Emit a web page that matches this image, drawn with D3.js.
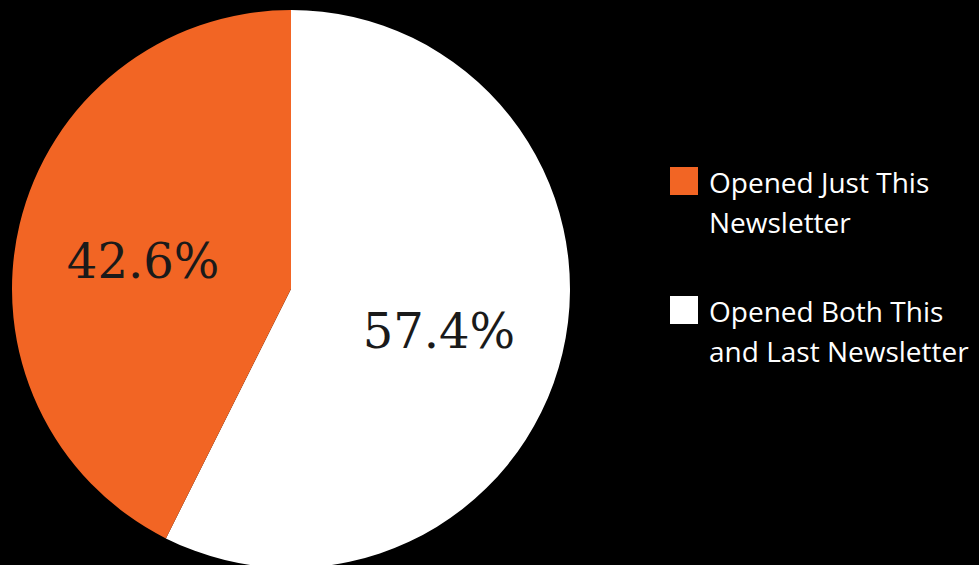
<!DOCTYPE html>
<html>
<head>
<meta charset="utf-8">
<script src="https://cdn.jsdelivr.net/npm/d3@7"></script>
<style>
  html, body { margin: 0; padding: 0; background: #000; }
  svg { display: block; }
</style>
</head>
<body>
<div id="chart"></div>
<script>
// Chart data
const categories = ["Opened Both This and Last Newsletter", "Opened Just This Newsletter"];
const values = [57.4, 42.6];
const legendLines = [["Opened Just This", "Newsletter"], ["Opened Both This", "and Last Newsletter"]];
const legendOrder = [1, 0]; // legend lists orange first
const colors = ["#ffffff", "#f26524"];

const width = 979;
const height = 565;
const cx = 291, cy = 289, radius = 279;

const svg = d3.select("#chart")
    .append("svg")
    .attr("width", width)
    .attr("height", height)
    .style("background-color", "#000");

const pie = d3.pie().sort(null).value(d => d);
const arcs = pie(values);
const arc = d3.arc().innerRadius(0).outerRadius(radius);
const labelArc = d3.arc().innerRadius(152).outerRadius(152);

const g = svg.append("g").attr("transform", `translate(${cx},${cy})`);

g.selectAll("path")
    .data(arcs)
    .enter()
    .append("path")
    .attr("d", arc)
    .attr("fill", (d, i) => colors[i]);

g.selectAll("text")
    .data(arcs)
    .enter()
    .append("text")
    .attr("transform", d => {
        const [x, y] = labelArc.centroid(d);
        return `translate(${x},${y + 7})`;
    })
    .attr("text-anchor", "middle")
    .attr("dy", "0.35em")
    .style("font-family", "'DejaVu Serif', serif")
    .style("font-size", "48px")
    .style("fill", "#1a1a1a")
    .text(d => d.data.toFixed(1) + "%");

// Legend
const legend = svg.append("g").attr("transform", "translate(670,167)");
const item = legend.selectAll("g")
    .data(legendOrder)
    .enter()
    .append("g")
    .attr("transform", (d, i) => `translate(0,${i * 129})`);

item.append("rect")
    .attr("width", 28)
    .attr("height", 28)
    .attr("fill", d => colors[d]);

item.each(function(d, i) {
    const t = d3.select(this).append("text")
        .attr("x", 39)
        .attr("y", 26)
        .style("font-family", "'Open Sans', sans-serif")
        .style("font-size", "28px")
        .style("fill", "#ffffff");
    legendLines[i].forEach((line, k) => {
        t.append("tspan").attr("x", 39).attr("dy", k === 0 ? 0 : 40).text(line);
    });
});
</script>
</body>
</html>
